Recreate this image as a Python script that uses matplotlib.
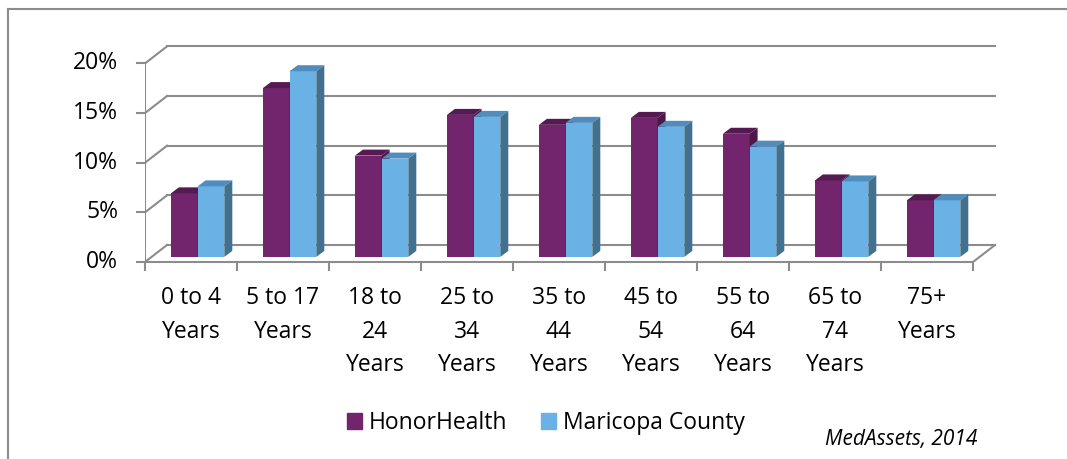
import numpy as np
import matplotlib
matplotlib.use("Agg")
import matplotlib.pyplot as plt
from matplotlib.patches import Polygon, Patch
from matplotlib.lines import Line2D

plt.rcParams['font.family'] = ['Open Sans', 'DejaVu Sans']

categories = ["0 to 4\nYears", "5 to 17\nYears", "18 to\n24\nYears", "25 to\n34\nYears",
              "35 to\n44\nYears", "45 to\n54\nYears", "55 to\n64\nYears", "65 to\n74\nYears",
              "75+\nYears"]
honor = [6.4, 17.0, 10.2, 14.3, 13.3, 14.0, 12.4, 7.7, 5.7]
maricopa = [7.1, 18.7, 9.9, 14.1, 13.5, 13.1, 11.1, 7.6, 5.7]
yticks = [0, 5, 10, 15, 20]
series = ["HonorHealth", "Maricopa County"]

W, H = 1067, 459
fig = plt.figure(figsize=(W / 100, H / 100), dpi=100)

# axes placed in pixels: front floor edge at y=262px, 92px per category, 9.93px per %
pxx, pxy = 92.0, 9.93
left, right, top, bottom = 145, 1000, 40, 262
ax = fig.add_axes([left / W, 1 - bottom / H, (right - left) / W, (bottom - top) / H])
ax.set_xlim(-0.5, -0.5 + (right - left) / pxx)
ax.set_ylim(0, (bottom - top) / pxy)
ax.axis('off')

grid_c = '#8c8c8c'
glw = 1.5
DX, DY = 22 / pxx, 17 / pxy   # wall depth
n = len(categories)
x0, x1 = -0.5, n - 0.5

# back wall gridlines and side diagonals
for v in yticks:
    ax.plot([x0 + DX, x1 + DX], [v + DY, v + DY], color=grid_c, lw=glw, zorder=1)
    ax.plot([x0, x0 + DX], [v, v + DY], color=grid_c, lw=glw, zorder=1)
    ax.plot([x0 - 8 / pxx, x0], [v, v], color=grid_c, lw=glw, zorder=1, clip_on=False)
    ax.annotate(f"{v}%", xy=(x0, v), xytext=(-27, 0), textcoords='offset pixels',
                ha='right', va='center', fontsize=16.5)
ax.plot([x0, x0], [0, yticks[-1]], color=grid_c, lw=glw, zorder=1)
ax.plot([x0, x1], [0, 0], color=grid_c, lw=glw, zorder=1, clip_on=False)
ax.plot([x1, x1 + DX], [0, DY], color=grid_c, lw=glw, zorder=1)
for k in range(n + 1):
    ax.plot([k - 0.5, k - 0.5], [0, -8 / pxy], color=grid_c, lw=glw, zorder=1, clip_on=False)

# bars with fake 3d faces
f = 0.3
bx, by = f * DX, f * DY
w = 26.7 / pxx
ddx, ddy = 8 / pxx, 6 / pxy
styles = [('#72246C', '#561A52', '#4E174A'), ('#6AB2E5', '#4F8DBE', '#41718F')]
xs = np.arange(n)
for s, vals in enumerate([honor, maricopa]):
    front, topc, side = styles[s]
    lefts = xs + bx - w + s * w
    ax.bar(lefts, vals, width=w, bottom=by, align='edge', color=front, zorder=2 + s)
    for l, v in zip(lefts, vals):
        r = l + w
        t = by + v
        ax.add_patch(Polygon([(l, t), (l + ddx, t + ddy), (r + ddx, t + ddy), (r, t)],
                             closed=True, color=topc, lw=0, zorder=2 + s))
        ax.add_patch(Polygon([(r, by), (r + ddx, by + ddy), (r + ddx, t + ddy), (r, t)],
                             closed=True, color=side, lw=0, zorder=2 + s))

# category labels, line by line
for k, lab in enumerate(categories):
    for i, line in enumerate(lab.split("\n")):
        ax.annotate(line, xy=(k, 0), xytext=(0, -(42 + 33.5 * i)), textcoords='offset pixels',
                    ha='center', va='baseline', fontsize=16.5, annotation_clip=False)

handles = [Patch(color=styles[0][0]), Patch(color=styles[1][0])]
fig.legend(handles, series, loc='center', bbox_to_anchor=(546 / W, 1 - 423 / H), ncol=2,
           frameon=False, fontsize=16.5, handlelength=0.66, handleheight=0.66,
           handletextpad=0.3, columnspacing=1.45, borderpad=0)

fig.text(977 / W, 1 - 445 / H, "MedAssets, 2014", ha='right', va='baseline',
         fontsize=15, style='italic')

# outer frame (left and top edges only visible)
fig.add_artist(Line2D([8 / W, 8 / W], [0, 1 - 9 / H], color='#8c8c8c', lw=1.5))
fig.add_artist(Line2D([8 / W, 1], [1 - 9 / H, 1 - 9 / H], color='#8c8c8c', lw=1.5))

fig.savefig("out.png", dpi=100, facecolor='white')
